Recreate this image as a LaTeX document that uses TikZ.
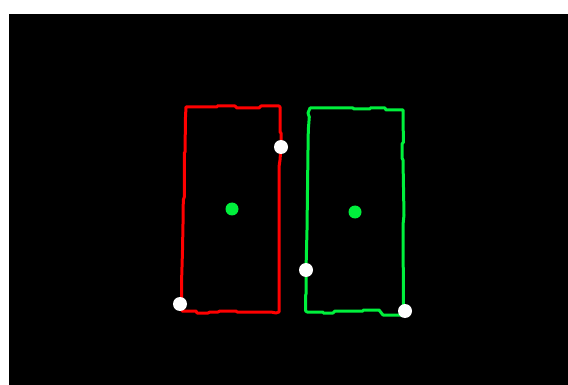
\documentclass[tikz,border=0pt]{standalone}
\usepackage{xcolor}
\usepackage{tikz}
\usetikzlibrary{positioning}

\definecolor{boxred}{RGB}{255,0,0}
\definecolor{boxgreen}{RGB}{0,240,60}

\begin{document}
\begin{tikzpicture}[
    x=1pt, y=-1pt,
    outline/.style={draw, line width=3pt, line join=round},
    centre/.style={circle, fill=boxgreen, inner sep=0pt, minimum size=13pt},
    keypt/.style={circle, fill=white, inner sep=0pt, minimum size=14pt}
]

% Frame
\useasboundingbox (0,0) rectangle (568,385);
\fill[white] (0,0) rectangle (568,385);
\fill[black] (9,14) rectangle (568,385);

% Left box (red)
\draw[outline, boxred] (186,107) -- (217,107) -- (217,106) -- (235,106) -- (237,108)
  -- (259,108) -- (261,106) -- (279,106) -- (280,107) -- (280,132) -- (281,133)
  -- (281,147) -- (280,160) -- (279,167) -- (279,312) -- (276,313) -- (271,312)
  -- (237,312) -- (236,311) -- (220,311) -- (218,312) -- (210,312) -- (208,313)
  -- (197,313) -- (196,311) -- (182,311) -- (181.5,300) -- (181.5,283) -- (182,267)
  -- (182.5,250) -- (183,224) -- (183.3,200) -- (184.3,197) -- (184.3,153)
  -- (185,152) -- (185.5,117) -- cycle;

% Right box (green)
\draw[outline, boxgreen] (310,108) -- (353,108) -- (354,109) -- (370,109) -- (370,108)
  -- (385,108) -- (386,110) -- (403,110) -- (403,120) -- (403.5,142) -- (402,144)
  -- (402,158) -- (403,160) -- (404,215) -- (403,225) -- (403.5,311) -- (404,315)
  -- (383,315) -- (379,310) -- (363,310) -- (363,311) -- (335,311) -- (333,313)
  -- (323,313) -- (323,312) -- (307,312) -- (305.7,311) -- (305.7,295) -- (306,294)
  -- (306,270) -- (307,230) -- (308,150) -- (308.3,130) -- (309.3,117) -- (308,113)
  -- cycle;

% Centres
\node[centre] (cl) at (232,209) {};
\node[centre] (cr) at (355,212) {};

% Corner points
\node[keypt] (kl1) at (281,147) {};
\node[keypt] (kl2) at (180,304) {};
\node[keypt] (kr1) at (306,270) {};
\node[keypt] (kr2) at (405,311) {};

\end{tikzpicture}
\end{document}
